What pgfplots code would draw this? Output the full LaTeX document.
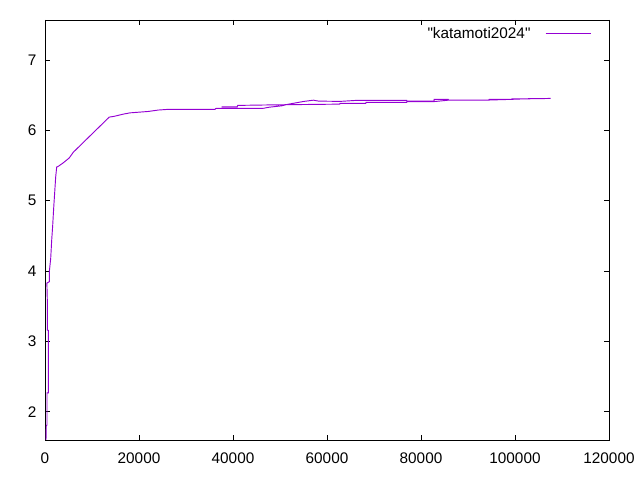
\documentclass[border=0pt]{standalone}
\usepackage{fontspec}
\setmainfont{Liberation Sans}
\usepackage{pgfplots}
\pgfplotsset{compat=1.18}
\usetikzlibrary{calc}
\definecolor{gpviolet}{HTML}{9400D3}
\begin{document}
\begin{tikzpicture}
\begin{axis}[
  scale only axis,
  width=423pt, height=315pt,
  xmin=0, xmax=120000, ymin=1.6, ymax=7.57,
  xtick={0,20000,40000,60000,80000,100000,120000},
  ytick={2,3,4,5,6,7},
  scaled x ticks=false,
  xticklabel style={/pgf/number format/fixed,/pgf/number format/1000 sep={}, yshift=-6pt},
  yticklabel style={xshift=-3pt},
  /pgf/number format/assume math mode=true,
  tick label style={font=\fontsize{11.5}{13}\selectfont, black},
  tick align=inside,
  major tick length=4pt,
  axis line style={black, line width=0.6pt},
  every tick/.style={black, line width=0.6pt},
  legend style={draw=none, fill=none, at={(1,1)}, anchor=north east, xshift=-10pt, yshift=-1.25pt,
    font=\fontsize{11.5}{13}\selectfont, legend cell align=right, column sep=9pt},
  legend plot pos=right,
  legend image code/.code={\draw[#1] (0pt,0pt) -- (34pt,0pt);},
]
\addplot[color=gpviolet, line width=0.7pt, mark=none] coordinates {
(213,1.60) (277,1.81) (425,1.81) (425,2.27) (700,2.27) (700,3.16)
(490,3.16) (490,3.59) (400,3.83) (915,3.85) (915,3.99) (1213,4.18)
(1425,4.44) (1638,4.65) (1851,4.90) (2064,5.12) (2277,5.34) (2490,5.48)
(2830,5.49) (3894,5.54) (5170,5.61) (6021,5.69) (10150,5.96) (13680,6.19)
(14681,6.20) (16525,6.23) (18085,6.25) (20064,6.26) (21980,6.27) (24106,6.29)
(26234,6.30) (36170,6.30) (36383,6.313) (46320,6.313) (47660,6.33) (50360,6.35)
(51560,6.37) (53190,6.39) (55100,6.413) (57100,6.43) (58200,6.417) (62770,6.413)
(66170,6.427) (76960,6.427) (77000,6.417) (82770,6.417) (82800,6.441) (85810,6.441)
(85850,6.431) (94470,6.431) (94500,6.441) (99300,6.441) (99350,6.450) (103200,6.450)
(107600,6.455)
(103200,6.452) (99300,6.442) (94470,6.432) (85810,6.430) (82770,6.410) (77000,6.410)
(76960,6.399) (68300,6.399) (68250,6.384) (62770,6.384) (62700,6.374) (50000,6.365)
(41000,6.356) (40900,6.336) (37600,6.336)
};
\addlegendentry{\textquotedbl katamoti2024\textquotedbl}
\end{axis}
\path[use as bounding box] ($(current axis.south west)+(-33.75pt,-30pt)$) rectangle ($(current axis.north east)+(23.25pt,15pt)$);
\end{tikzpicture}
\end{document}
